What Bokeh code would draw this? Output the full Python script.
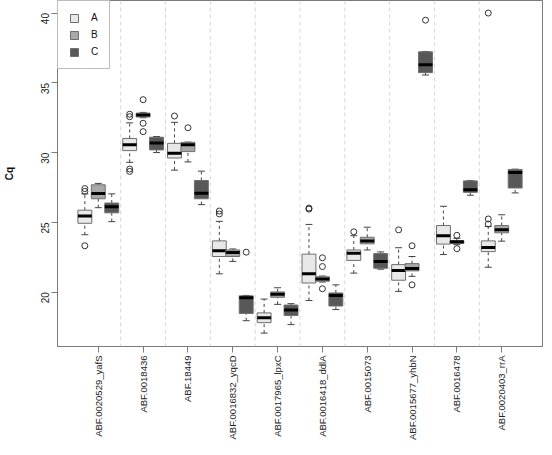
import math
from bokeh.plotting import figure
from bokeh.models import FixedTicker, Range1d, Legend, LegendItem, Span
from bokeh.embed import file_html
from bokeh.resources import INLINE

genes = ["ABF.0020529_yafS", "ABF.0018436", "ABF.18449", "ABF.0016832_yqcD",
         "ABF.0017965_lpxC", "ABF.0016418_ddlA", "ABF.0015073",
         "ABF.0015677_yhbN", "ABF.0016478", "ABF.0020403_rrA"]
groups = ["A", "B", "C"]

# Series A
A_low  = [24.11, 29.30, 28.74, 21.31, 17.06, 19.40, 21.36, 20.05, 22.69, 21.78]
A_q1   = [24.93, 30.14, 29.61, 22.55, 17.81, 20.65, 22.27, 20.85, 23.44, 22.90]
A_med  = [25.45, 30.56, 29.96, 22.97, 18.16, 21.32, 22.78, 21.55, 24.04, 23.20]
A_q3   = [25.87, 31.01, 30.66, 23.67, 18.51, 22.72, 23.02, 21.97, 24.77, 23.67]
A_high = [27.04, 32.13, 32.17, 25.07, 19.50, 24.85, 24.04, 23.18, 26.15, 24.70]
A_out  = [[27.42, 27.22, 23.32], [32.75, 32.57, 28.82, 28.65], [32.62],
          [25.81, 25.60], [], [26.02, 25.95], [24.32], [24.46], [],
          [40.00, 25.24, 24.88]]

# Series B
B_low  = [26.05, 32.50, 29.33, 22.20, 19.12, 20.72, 23.02, 21.13, 23.40, 23.65]
B_q1   = [26.69, 32.55, 30.07, 22.55, 19.63, 20.78, 23.46, 21.52, 23.48, 24.25]
B_med  = [27.06, 32.69, 30.56, 22.83, 19.84, 20.94, 23.67, 21.69, 23.60, 24.47]
B_q3   = [27.69, 32.83, 30.73, 23.02, 20.01, 21.10, 23.93, 22.04, 23.67, 24.77]
B_high = [27.79, 32.88, 30.75, 23.09, 20.31, 21.15, 24.65, 22.55, 23.85, 25.54]
B_out  = [[], [33.79, 32.10, 31.50], [31.78], [], [], [22.46, 21.83, 20.24],
          [], [23.32, 20.52], [24.07, 23.11], []]

# Series C
C_low  = [25.05, 30.00, 26.27, 17.95, 17.67, 18.75, 21.64, 35.56, 26.94, 27.11]
C_q1   = [25.68, 30.19, 26.69, 18.47, 18.32, 19.00, 21.71, 35.73, 27.15, 27.46]
C_med  = [26.12, 30.68, 27.08, 19.60, 18.72, 19.75, 22.20, 36.29, 27.34, 28.58]
C_q3   = [26.38, 31.10, 28.00, 19.73, 19.07, 19.94, 22.76, 37.22, 27.97, 28.79]
C_high = [27.04, 31.15, 28.67, 19.76, 19.17, 20.52, 22.88, 37.24, 27.99, 28.81]
C_out  = [[], [], [], [22.86], [], [], [], [39.49], [], []]

y_ticks = [20, 25, 30, 35, 40]

series = [
    ("A", A_low, A_q1, A_med, A_q3, A_high, A_out, "#e8e8e8", -0.3),
    ("B", B_low, B_q1, B_med, B_q3, B_high, B_out, "#a8a8a8", 0.0),
    ("C", C_low, C_q1, C_med, C_q3, C_high, C_out, "#585858", 0.3),
]

FONT = "Liberation Sans"
p = figure(frame_width=485, frame_height=346, output_backend="svg", toolbar_location=None,
           x_range=Range1d(0.09, 10.91), y_range=Range1d(16.1, 40.9),
           min_border_left=50, min_border_right=1, min_border_top=0,
           min_border_bottom=10)
p.xgrid.visible = False
p.ygrid.visible = False
p.outline_line_color = "#7a7a7a"
p.background_fill_color = "white"

for i in range(1, 10):
    p.add_layout(Span(location=i + 0.5, dimension="height", line_color="#d8d8d8",
                      line_dash="4 3", line_width=1))

bw = 0.31
cw = 0.155
box_renderers = []
for name, lo, q1, med, q3, hi, out, col, off in series:
    xs = [i + 1 + off for i in range(len(genes))]
    # whiskers
    p.segment(x0=xs, y0=q3, x1=xs, y1=hi, line_color="#444444", line_dash="3 3", line_width=1)
    p.segment(x0=xs, y0=lo, x1=xs, y1=q1, line_color="#444444", line_dash="3 3", line_width=1)
    # caps
    p.segment(x0=[x - cw / 2 for x in xs], y0=hi, x1=[x + cw / 2 for x in xs], y1=hi,
              line_color="#444444", line_width=1)
    p.segment(x0=[x - cw / 2 for x in xs], y0=lo, x1=[x + cw / 2 for x in xs], y1=lo,
              line_color="#444444", line_width=1)
    r = p.vbar(x=xs, width=bw, bottom=q1, top=q3, fill_color=col,
               line_color="#6e6e6e", line_width=1)
    box_renderers.append((name, r))
    p.segment(x0=[x - bw / 2 for x in xs], y0=med, x1=[x + bw / 2 for x in xs], y1=med,
              line_color="black", line_width=3)
    ox, oy = [], []
    for x, vals in zip(xs, out):
        for v in vals:
            ox.append(x)
            oy.append(v)
    if ox:
        p.scatter(x=ox, y=oy, marker="circle", size=6, fill_color=None,
                  line_color="#333333", line_width=1)

legend = Legend(items=[LegendItem(label=n, renderers=[r]) for n, r in box_renderers],
                location="top_left", margin=0, padding=11, spacing=6,
                glyph_width=10, glyph_height=10, label_height=10, label_width=6,
                label_standoff=12, label_text_font=FONT, label_text_font_size="10px",
                label_text_color="#111111",
                border_line_color="#7a7a7a", border_line_width=1,
                background_fill_alpha=1.0)
p.add_layout(legend)

p.xaxis.ticker = FixedTicker(ticks=list(range(1, len(genes) + 1)))
p.xaxis.major_label_overrides = {i + 1: g for i, g in enumerate(genes)}
p.xaxis.major_label_orientation = math.pi / 2
p.xaxis.minor_tick_line_color = None
p.xaxis.major_tick_in = 0
p.xaxis.major_tick_out = 6
p.xaxis.major_label_standoff = 3
p.xaxis.axis_line_color = "#7a7a7a"
p.xaxis.major_tick_line_color = "#7a7a7a"
p.xaxis.major_label_text_font = FONT
p.xaxis.major_label_text_font_size = "9.5px"
p.xaxis.major_label_text_color = "#222222"

p.yaxis.ticker = FixedTicker(ticks=y_ticks)
p.yaxis.major_label_orientation = math.pi / 2
p.yaxis.minor_tick_line_color = None
p.yaxis.major_tick_in = 0
p.yaxis.major_tick_out = 6
p.yaxis.major_label_standoff = 6
p.yaxis.axis_line_color = "#7a7a7a"
p.yaxis.major_tick_line_color = "#7a7a7a"
p.yaxis.major_label_text_font = FONT
p.yaxis.major_label_text_font_size = "10px"
p.yaxis.major_label_text_color = "#222222"
p.yaxis.axis_label = "Cq"
p.yaxis.axis_label_text_font = FONT
p.yaxis.axis_label_text_font_size = "10px"
p.yaxis.axis_label_text_font_style = "bold"
p.yaxis.axis_label_text_color = "#111111"
p.yaxis.axis_label_standoff = 20

open("out.html", "w").write(file_html(p, INLINE))
